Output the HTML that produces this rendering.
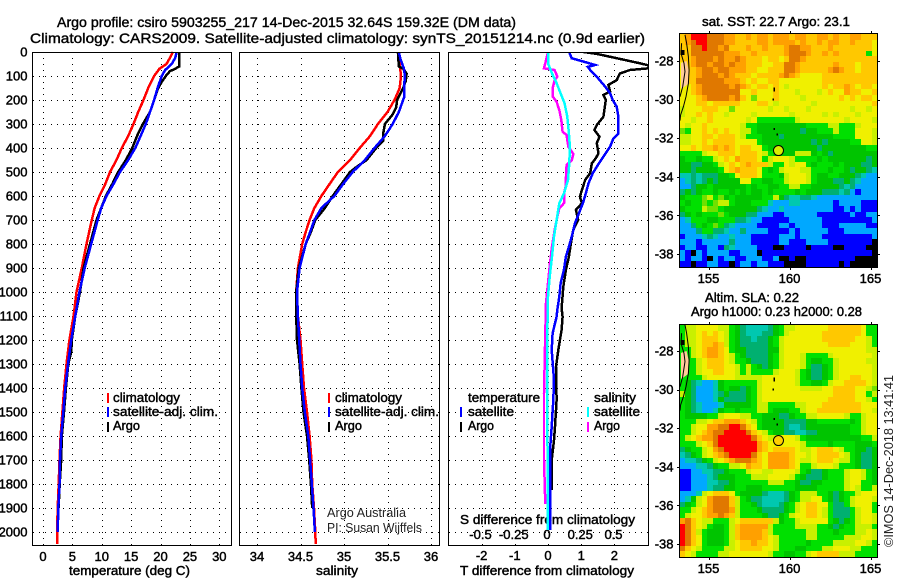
<!DOCTYPE html>
<html>
<head>
<meta charset="utf-8">
<title>Argo profile</title>
<style>
html,body{margin:0;padding:0;background:#fff;}
svg{display:block;}
text{font-family:"Liberation Sans",sans-serif;fill:#000;}
.t{font-size:14px;stroke:#000;stroke-width:.4px;}
.b{font-size:13px;stroke:#000;stroke-width:.45px;}
.n{font-size:13px;fill:#222;}
</style>
</head>
<body>
<svg id="fig" xmlns="http://www.w3.org/2000/svg" width="900" height="580" viewBox="0 0 900 580">
<defs>
<clipPath id="clip3"><rect x="448" y="52" width="200.5" height="494"/></clipPath>
<clipPath id="clipMap1"><rect x="680" y="34" width="197.5" height="233"/></clipPath>
<clipPath id="clipMap2"><rect x="680" y="325" width="197.5" height="232"/></clipPath>
</defs>
<text class="t" x="57" y="27" textLength="459" lengthAdjust="spacingAndGlyphs">Argo profile: csiro 5903255_217 14-Dec-2015 32.64S 159.32E (DM data)</text>
<text class="t" x="30" y="43" textLength="615" lengthAdjust="spacingAndGlyphs">Climatology: CARS2009. Satellite-adjusted climatology: synTS_20151214.nc (0.9d earlier)</text>
<text class="b" x="69" y="575" textLength="121" lengthAdjust="spacingAndGlyphs">temperature (deg C)</text>
<text class="b" x="316" y="575" textLength="42" lengthAdjust="spacingAndGlyphs">salinity</text>
<text class="b" x="460" y="575" textLength="174" lengthAdjust="spacingAndGlyphs">T difference from climatology</text>
<text class="b" x="460" y="524" textLength="175" lengthAdjust="spacingAndGlyphs">S difference from climatology</text>
<text class="n" x="327" y="517" textLength="79" lengthAdjust="spacingAndGlyphs">Argo Australia</text>
<text class="n" x="327" y="532" textLength="95" lengthAdjust="spacingAndGlyphs">PI: Susan Wijffels</text>
<text class="b" x="702" y="26" textLength="148" lengthAdjust="spacingAndGlyphs">sat. SST: 22.7 Argo: 23.1</text>
<text class="b" x="705" y="302" textLength="94" lengthAdjust="spacingAndGlyphs">Altim. SLA: 0.22</text>
<text class="b" x="691" y="316" textLength="171" lengthAdjust="spacingAndGlyphs">Argo h1000: 0.23 h2000: 0.28</text>
<text class="n" transform="translate(893 547) rotate(-90)" textLength="172" lengthAdjust="spacingAndGlyphs">©IMOS 14-Dec-2018 13:41:41</text>
<g id="layer"></g>
<text class="b" x="113" y="402" textLength="67" lengthAdjust="spacingAndGlyphs">climatology</text>
<text class="b" x="113" y="416" textLength="105" lengthAdjust="spacingAndGlyphs">satellite-adj. clim.</text>
<text class="b" x="113" y="430" textLength="27" lengthAdjust="spacingAndGlyphs">Argo</text>
<text class="b" x="335" y="402" textLength="67" lengthAdjust="spacingAndGlyphs">climatology</text>
<text class="b" x="335" y="416" textLength="104" lengthAdjust="spacingAndGlyphs">satellite-adj. clim.</text>
<text class="b" x="335" y="430" textLength="27" lengthAdjust="spacingAndGlyphs">Argo</text>
<text class="b" x="468" y="402" textLength="72" lengthAdjust="spacingAndGlyphs">temperature</text>
<text class="b" x="468" y="416" textLength="46" lengthAdjust="spacingAndGlyphs">satellite</text>
<text class="b" x="468" y="430" textLength="26" lengthAdjust="spacingAndGlyphs">Argo</text>
<text class="b" x="594" y="402" textLength="42" lengthAdjust="spacingAndGlyphs">salinity</text>
<text class="b" x="594" y="416" textLength="46" lengthAdjust="spacingAndGlyphs">satellite</text>
<text class="b" x="594" y="430" textLength="26" lengthAdjust="spacingAndGlyphs">Argo</text>
</svg>
<script>
var depthTicks=[0,100,200,300,400,500,600,700,800,900,1000,1100,1200,1300,1400,1500,1600,1700,1800,1900,2000];
var tempTicks=[0,5,10,15,20,25,30];
var tempTickLabels=["0","5","10","15","20","25","30"];
var salTicks=[34,34.5,35,35.5,36];
var salTickLabels=["34","34.5","35","35.5","36"];
var tDiffTicks=[-2,-1,0,1,2];
var tDiffTickLabels=["-2","-1","0","1","2"];
var sDiffTicks=[-0.5,-0.25,0,0.25,0.5];
var sDiffTickLabels=["-0.5","-0.25","0","0.25","0.5"];
var lonTicks=[155,160,165];
var latTicks=[-28,-30,-32,-34,-36,-38];
var latTickLabels=["-28","-30","-32","-34","-36","-38"];

var tempClimDepth=[0,25,50,70,100,150,200,250,300,350,400,450,500,550,600,650,700,800,900,1000,1100,1200,1300,1400,1500,1600,1700,1800,1900,2000,2050];
var tempClim=[22.1,21.6,21,19.8,18.9,17.9,17.1,16.2,15.4,14.5,13.4,12.5,11.4,10.6,9.6,8.8,8.3,7.4,6.6,5.7,5.2,4.5,4.0,3.6,3.3,3.0,2.8,2.67,2.5,2.4,2.4];
var tempSatDepth=[0,25,50,75,100,150,200,250,300,350,400,450,500,550,600,650,700,800,900,1000,1100,1200,1300,1400,1500,1600,1700,1800,1900,2000];
var tempSat=[22.75,22.5,21.9,20.8,20.2,19.5,18.9,18.2,17.5,16.6,15.7,14.5,13.1,12,10.8,9.9,9.3,8.2,7.1,6.2,5.5,4.8,4.25,3.8,3.46,3.1,2.9,2.8,2.6,2.5];
var tempArgoDepth=[0,60,70,80,100,125,150,200,250,300,350,400,450,500,550,600,650,700,800,900,1000,1100,1200,1250,1300,1400,1500,1600,1700,1800,1900];
var tempArgo=[23.2,23.2,22.5,21.6,20.9,20.2,19.6,18.9,18.2,17,16,15.2,14.1,12.8,11.8,10.7,9.9,9.1,8,6.9,6.3,5.5,4.9,4.8,4.3,3.9,3.57,3.2,3.1,2.85,2.65];

var salClimDepth=[0,50,100,150,200,250,300,350,400,450,500,550,600,650,700,750,800,900,1000,1100,1200,1300,1400,1500,1600,1700,1800,1900,2000,2050];
var salClim=[35.63,35.64,35.655,35.64,35.58,35.5,35.39,35.3,35.18,35.07,34.93,34.835,34.74,34.66,34.605,34.56,34.52,34.47,34.45,34.47,34.5,34.52,34.54,34.575,34.605,34.625,34.635,34.655,34.67,34.675];
var salSatDepth=[0,30,70,100,150,190,220,250,300,350,400,450,500,550,600,650,700,750,800,900,1000,1100,1200,1300,1400,1500,1600,1700,1800,1900,2000];
var salSat=[35.63,35.65,35.69,35.7,35.69,35.69,35.66,35.63,35.56,35.47,35.35,35.24,35.1,34.99,34.89,34.74,34.66,34.61,34.56,34.49,34.46,34.47,34.485,34.5,34.52,34.55,34.59,34.61,34.63,34.65,34.665];
var salArgoDepth=[0,60,70,90,120,150,200,230,260,300,340,370,400,450,480,500,550,600,650,700,750,800,900,1000,1100,1200,1300,1400,1500,1600,1700,1800,1900];
var salArgo=[35.62,35.63,35.68,35.72,35.71,35.68,35.61,35.6,35.56,35.47,35.45,35.45,35.37,35.26,35.14,35.07,34.97,34.87,34.78,34.67,34.62,34.56,34.48,34.45,34.45,34.46,34.49,34.51,34.535,34.575,34.6,34.62,34.635];

var dTsatDepth=[0,26,40,54,62,75,103,144,172,200,228,270,340,360,394,436,478,505,547,589,630,672,714,755,797,853,908,964,1019,1075,1103,1172,1242,1367,1450,1561,1658,1992];
var dTsat=[0.64,0.71,1.07,1.42,1.2,1.27,1.47,1.72,1.87,1.95,2.07,2.12,2.12,1.97,1.87,1.67,1.47,1.35,1.22,1.14,1.05,0.93,0.81,0.74,0.66,0.54,0.48,0.38,0.34,0.28,0.26,0.14,0.11,0.18,0.16,0.11,0.06,0.06];
var dTargoDepth=[0,8,26,47,56,68,75,89,117,137,165,179,200,270,304,325,353,380,422,443,464,505,533,575,603,630,658,700,742,797,853,908,978,1068,1103,1158,1242,1311,1450,1561,1617,1700,1825];
var dTargo=[1.07,1.47,2.07,2.77,3.03,3.03,2.47,2.17,2.07,1.82,1.87,1.67,1.74,1.67,1.47,1.4,1.55,1.47,1.52,1.44,1.32,1.27,1.12,1.02,0.96,1.02,0.84,0.91,0.76,0.69,0.63,0.54,0.46,0.41,0.44,0.41,0.31,0.24,0.26,0.21,0.18,0.11,0.11];
var dSargoDepth=[0,47,68,75,103,117,151,186,207,242,283,332,346,394,425,450,471,519,561,589,630,651,700,742,811,880,964,1047,1172,1422,1700,1883];
var dSargo=[0,-0.02,-0.03,0.05,0.07,0.05,0.035,0.035,0.065,0.085,0.1,0.11,0.14,0.153,0.19,0.18,0.14,0.135,0.133,0.12,0.12,0.085,0.065,0.05,0.03,0.015,0,-0.015,-0.02,-0.03,-0.03,-0.02];
var dSsatDepth=[0,47,89,130,172,214,270,325,394,464,533,589,630,700,769,853,936,1019,1172,1450,1728,1992];
var dSsat=[0,0,0.03,0.065,0.095,0.125,0.145,0.155,0.165,0.16,0.15,0.12,0.085,0.065,0.045,0.03,0.013,0,-0.005,-0.005,-0.003,0];

var coastLon=[153.55,153.65,153.76,153.80,153.76,153.61,153.45,153.28,153.24];
var coastLat=[-26.65,-27.08,-27.78,-28.47,-29.16,-29.85,-30.37,-30.8,-31.09];
var coast2Lon=[153.34,153.3,153.49,153.55,153.41,153.24];
var coast2Lat=[-27.08,-27.6,-28.12,-28.55,-29.33,-29.85];
var landLon=[153.3,153.65,153.78,153.72,153.4,153.3];
var landLat=[-28.1,-28.0,-28.5,-29.2,-29.4,-29.45];
var islandLon=[159.06,159.02,159.06,159.26,153.34];
var islandLat=[-29.47,-30.0,-31.53,-31.8,-27.57];
var islandSize=[4,2,2,2,5];
var argoLon=159.32;
var argoLat=-32.64;

var sstRows=[
"aoRRRO OOooaa oaooao ooaooa aooaoa aooaaa",
"aoORRO OOooaa aaooao oooaoa aoaooa aoaaay",
"aaOORO OoOaaa oaaoaa aoOOoo aaaoaa aaaaay",
"aaOOOO OOoooa aoaaaa aoOOOo aaoaoa aaaaGy",
"aaoOOO oOooOo aaayaa yaOOoa aaaaaa aaaaaa",
"yaoOOo OOoOoo aaayya aOOoaa aaaaoa aayaaa",
"yaaoOO oOOooo aayyaa aOOoaa aaaoOo aayaaa",
"yaaoOO OoOoaa ayaaaa oOoayy yyaaaa aaaaaa",
"yaaOOO OOoooa yayyaa yyyyyy yyaaaa aaaaaa",
"yyaoOO OOOoOo ayaaya ylyyyy yyayaa oayaay",
"yyaoOO OOOOOy yayyya yyylyy ylyayy oaayya",
"yyyaoO OOOoOa ygyyya yyyyly yyyyya yayaay",
"yyyaay aaaaay yyaayl yyyyyy lyyyyy yyyyya",
"lyyyaa ayygyy yyyyly ylyyyl yyyyyy ylyyly",
"lyyaya yylyyy ylyyyy yylyyy yylyly yylyyy",
"yylyya yyyyyy lyGGGG GGGlyy yyyyyy lyyyyl",
"ylyyay yyyyyl GGdddd dddddG GGGllG GGlyyy",
"gGyyay ayayyl lGdddd ddddtd dGGGlG GGyyyl",
"llyyaa yaaayl GGGddd tddddd ddddGG GGyyyl",
"llyyay aaaayy yyGddd dddddd tdtddd dGGyyl",
"yyayaa oaoaya ayyGdd dddddd dtdddd ddddGG",
"GGGGly yaaaya aaylGd dddlll dGdtdd dddddd",
"dGGdGG lyayoa aayGly yylGGG GdGddd ddddtd",
"ddttdd Glyaya oaaalG GylyyG dGGGdG dddttd",
"ddtddd dGyaoa aayGdG lyyyll GGGdGG dtddtc",
"cctctt tddGya aayGGG dlyyyl GddGGd ddtcbb",
"bctctd tddddy yGGddG Glyyyl Gdddtt dtcbbb",
"bbtddG dddddd GdGGdd GGllGG dddddt ctbbbb",
"tdtdGG dGGdGd GddGdG GGGdGd ddtttc tbBbbb",
"dGGGgl GgdGdd dddGGl dtcctt cbbbbb bbbbbb",
"GdGGgG gllGdd dGGGcb bbccbb bbbbBb bbbBBB",
"dGGGlg gGdddd ddtcbb cbbbbb bbbbBB bBbBBB",
"tdGdGG GgGddd ttbbbB Bbbbbb bBBBBB BbBBbb",
"bcGGGd dGGGtt cbbBBB BBbbbb bbBBBB BBBBBb",
"bbtGdG gGtcbb bbBBBB bbBbbb bbBBBb bbbbBB",
"bbbtGG ttcbbt bbbbBB BBbBbb bbbBBB bbbbbb",
"Bbbbct cbbcbb bBBBBB bbbBbb bbBBBB BBBBBb",
"bbbBbb bbbtbb bBBBBB bbBBBb bbbBBB BBBBBK",
"BbbBBb bBtcbb bbBBBK KBBBBK BBBBKK BBBBKK",
"bBKbBb bbbBBb bbKBBB BBBBBB BBBBBB BBBBBK",
"bBbbBK bBbbBB bbbBBb KKBKKB BBBBBB BBKKKK",
"BBKBBb bBBKBb bBbbBB BKKKKB BBBBBK BKKKKK"
];

var slaRows=[
"Gllyyy yllGdt cccctd Gllyyy yyyaaa aaayGG",
"Gllyay aylGdt cccttd Glyyyy yyaaaa aaayGG",
"Gllyaa aylGdt tcttdG lyyyyy yyaaaa aayylG",
"Gllyaa oalGdt ttttdG lyyyyy yyyaaa ayyylG",
"GGlyao oayGdd ttttdd lyyyyy yyyyyy yyyyll",
"GGlyao oaylGd ttttdG lyyylG GGGlyy yyyyyl",
"GGGlya aaylGG dtttdG lyyylG ddGGly yyyyll",
"GGGlya aayylG lGdtdG lyyylG ttdGly yyyyyl",
"GGGlyy aayylG lGGGGl yyylGd ttdGly yyyyyl",
"GGGGly yyyyll lllyyy yyylGd ttdGly yaayyl",
"Gdtcbb cdGGGG GGlyyy yyylGG ddGlyy aaaayl",
"Gdtbbb cdGddt dGlyyy yyyyll llyyaa aayylg",
"ldtbbb ctdttt dGlyyy yyyyyy yyyyaa aayyGl",
"Gdtbbb cdtttt dGlyyy yyyyyy yyyaaa aayylG",
"Gdtcbb bcdddd dGllGG GGGlly yyaaaa aaayyy",
"Gdtcbb cdGGdG GGllGd ddGGly yaaaaa aaayyl",
"GddddG Glyyyl lGGddd ttdGGl lyyyyy lGGlyy",
"GGGlly aaoooa ylGddd dttttd dGGGGG GdGlyy",
"GGlyyo oOORRO ayGddd dtcctd dddddd dGGlyy",
"GGlyao OORRRR OaylGd dttcct tddddd dGGlyy",
"Glyaoo ORRRRR ROayll yyylGd dddddd dddGGl",
"GGGlya ORRRRR RRoayy yyyylG GGGdGG GGdddG",
"tdGGly oORRRR RRoaya aaayll yaaayl GGddtd",
"ctdGly aoORRR ROayoo ooayyl yaaaay lGdttd",
"bcctdG lyaoOO Ooayoo ooayll yaaayl lGdttd",
"bbbcct dGGlly oaayoo ooayGG lyyylG GGdttd",
"BBbbcc ttdGGG lyylly yyylGd ttdGGG lyylGd",
"BBbbbc tdddGG Glllyy yylGdt ttdGGG lyylGd",
"BBbbbc cttdGG GGGGll lGGdtt ddGGGG lyyGGd",
"BBbbbc ttddGG dddGGG GGGddd dGGGGG lylGGl",
"bbbcly aaayGd dddtcc ctdGll lGGdtd GGlyyy",
"bcdlyo OOOalG dttccc ctdGll yyGdtd Glyyyl",
"tdGlyo OOOalG Gdtccc tdGlya ayyGtt GlyyyG",
"GGlyao OOOolG GGdttt tdGlya aylGtt tGlyyG",
"Glyyao oOoalG GGGdtt dGlyya aylGtt tGlyyl",
"oOayll GGGlya aaaaal dGGlyy yyyGdt dGlyyl",
"ROaylG ddGlao oooolG GGGlll lGGdtd GGlllG",
"ROalGd ddGlao oooalG GGGGGl lGGGdG GGllyl",
"ROayGd ddGlao oooayl GGGGGl lGGGGG lllyyl",
"ROayGd ddGlya aoaayl GGGGGd GGGGll llyylG",
"OaylGG GGllya aaayyl GGGddG GGllyy yllGGG",
"aylGGG Gllyyy yyyylG GddGGl yaaaal llGGGG"
];

var cellColors={R:"#ff0000",O:"#e07800",o:"#ffa000",a:"#ffc800",y:"#f0f000",l:"#c8f000",g:"#70e000",G:"#00e000",d:"#00c400",t:"#00b070",c:"#00c8b0",b:"#00a8ff",B:"#0000ff",K:"#000000",s:"#ffcc99"};

var NS="http://www.w3.org/2000/svg";
var layer=document.getElementById("layer");
function make(tag,attrs,parent){
  var e=document.createElementNS(NS,tag);
  for(var k in attrs){e.setAttribute(k,attrs[k]);}
  (parent||layer).appendChild(e);
  return e;
}
function yDepth(d){return 52+d*0.24;}
function xTemp(v){return 43+v*5.877;}
function xSal(v){return 257+(v-34)*87;}
function xDT(v){return 548+v*33.2;}
function xDS(v){return 548+v*133;}

function panelBase(name,x0,x1,ticks,xf,labels,labelY,showDepth){
  var i,g,t;
  for(i=0;i<depthTicks.length;i++){
    g=make("line",{x1:x0,x2:x1,y1:Math.round(yDepth(depthTicks[i]))+0.5,y2:Math.round(yDepth(depthTicks[i]))+0.5,stroke:"#000","stroke-dasharray":"1 5","shape-rendering":"crispEdges"});
    
    
  }
  for(i=0;i<ticks.length;i++){
    g=make("line",{x1:Math.round(xf(ticks[i]))+0.5,x2:Math.round(xf(ticks[i]))+0.5,y1:52,y2:546,stroke:"#000","stroke-dasharray":"1 5","shape-rendering":"crispEdges"});
    
    
    t=make("text",{x:xf(ticks[i]),y:labelY,"text-anchor":"middle","class":"b"});
    t.textContent=labels[i];
    
    
  }
  if(showDepth){
    for(i=0;i<depthTicks.length;i++){
      t=make("text",{x:27.5,y:yDepth(depthTicks[i])+4.5,"text-anchor":"end","class":"b"});
      t.textContent=String(depthTicks[i]);
      
      
    }
  }
}
function frame(name,x0,y0,x1,y1){
  var r=make("rect",{x:x0,y:y0,width:x1-x0,height:y1-y0,fill:"none",stroke:"#000","stroke-width":1,"shape-rendering":"crispEdges"});
  
  
}
function profile(name,depths,vals,xf,color,width,clip){
  var pts=[],i;
  for(i=0;i<vals.length;i++){pts.push(xf(vals[i]).toFixed(1)+","+yDepth(depths[i]).toFixed(1));}
  var p=make("polyline",{points:pts.join(" "),fill:"none",stroke:color,"stroke-width":width,"shape-rendering":"crispEdges"});
  if(clip){p.setAttribute("clip-path","url(#"+clip+")");}
  
  
}
function legendBar(name,x,y,color){
  var r=make("rect",{x:x,y:y,width:2,height:10,fill:color,"shape-rendering":"crispEdges"});
  
  
}

panelBase("temperature",33,231,tempTicks,xTemp,tempTickLabels,561,true);
panelBase("salinity",240,439,salTicks,xSal,salTickLabels,561,false);
panelBase("difference",449,648,tDiffTicks,xDT,tDiffTickLabels,560,false);
for(var si=0;si<sDiffTicks.length;si++){
  var sl=make("text",{x:xDS(sDiffTicks[si])-1,y:539,"text-anchor":"middle","class":"b"});
  sl.textContent=sDiffTickLabels[si];
  
  
}

profile("temperature-climatology-line",tempClimDepth,tempClim,xTemp,"#ff0000",2.5);
profile("temperature-argo-line",tempArgoDepth,tempArgo,xTemp,"#000000",2.5);
profile("temperature-satellite-line",tempSatDepth,tempSat,xTemp,"#0000ff",2.5);
profile("salinity-climatology-line",salClimDepth,salClim,xSal,"#ff0000",2.5);
profile("salinity-argo-line",salArgoDepth,salArgo,xSal,"#000000",2.5);
profile("salinity-satellite-line",salSatDepth,salSat,xSal,"#0000ff",2.5);
profile("t-diff-argo-line",dTargoDepth,dTargo,xDT,"#000000",2.5,"clip3");
profile("t-diff-satellite-line",dTsatDepth,dTsat,xDT,"#0000ff",2.5,"clip3");
profile("s-diff-argo-line",dSargoDepth,dSargo,xDS,"#ff00ff",2.5,"clip3");
profile("s-diff-satellite-line",dSsatDepth,dSsat,xDS,"#00ffff",2.5,"clip3");

frame("temperature-panel-frame",32.5,52.5,231.5,545.5);
frame("salinity-panel-frame",239.5,52.5,439.5,545.5);
frame("difference-panel-frame",448.5,52.5,648.5,545.5);

legendBar("legend-swatch-climatology",107,393,"#ff0000");
legendBar("legend-swatch-satellite-adj",107,407,"#0000ff");
legendBar("legend-swatch-argo",107,422,"#000000");
legendBar("legend-swatch-climatology-salinity",328,393,"#ff0000");
legendBar("legend-swatch-satellite-adj-salinity",328,407,"#0000ff");
legendBar("legend-swatch-argo-salinity",328,422,"#000000");
legendBar("legend-swatch-t-satellite",460,407,"#0000ff");
legendBar("legend-swatch-t-argo",460,422,"#000000");
legendBar("legend-swatch-s-satellite",587,407,"#00ffff");
legendBar("legend-swatch-s-argo",587,422,"#ff00ff");

function drawMap(rows,prefix,top,bottom,lat28,clip,dotColor){
  var left=680,right=877,i,j,r,cols=36,nrows=rows.length;
  function xLon(v){return 708.5+(v-155)*16.2;}
  function yLat(v){return lat28+(-28-v)*19.3;}
  for(j=0;j<nrows;j++){
    var row=rows[j].replace(/ /g,"");
    var y0=Math.round(top+j*(bottom-top)/nrows),y1=Math.round(top+(j+1)*(bottom-top)/nrows);
    for(i=0;i<cols;i++){
      var ch=row.charAt(i);
      if(!ch){continue;}
      var x0=Math.round(left+i*(right-left)/cols),x1=Math.round(left+(i+1)*(right-left)/cols);
      r=make("rect",{x:x0,y:y0,width:x1-x0,height:y1-y0,fill:cellColors[ch],"shape-rendering":"crispEdges"});
      
      
    }
  }
  var landPts=[],k;
  for(k=0;k<landLon.length;k++){landPts.push(xLon(landLon[k]).toFixed(1)+","+yLat(landLat[k]).toFixed(1));}
  var land=make("polygon",{points:landPts.join(" "),fill:cellColors.s,"clip-path":"url(#"+clip+")"});
  
  
  function coastLine(lons,lats,name){
    var pts=[],k;
    for(k=0;k<lons.length;k++){pts.push(xLon(lons[k]).toFixed(1)+","+yLat(lats[k]).toFixed(1));}
    var c=make("polyline",{points:pts.join(" "),fill:"none",stroke:"#000","stroke-width":1,"clip-path":"url(#"+clip+")"});
    
    
  }
  coastLine(coastLon,coastLat,prefix+'-coastline');
  coastLine(coast2Lon,coast2Lat,prefix+'-inner-coastline');
  for(i=0;i<islandLon.length;i++){
    var s=islandSize[i];
    r=make("rect",{x:xLon(islandLon[i])-1,y:yLat(islandLat[i])-s/2,width:i==4?4:1.5,height:s,fill:"#000","shape-rendering":"crispEdges"});
    
    
  }
  var c=make("circle",{cx:xLon(argoLon),cy:yLat(argoLat),r:5,fill:dotColor,stroke:"#000","stroke-width":1});
  
  
  frame(prefix+'-map-frame',left-0.5,top-0.5,right+0.5,bottom+0.5);
  for(i=0;i<lonTicks.length;i++){
    var lx=Math.round(xLon(lonTicks[i]))+0.5;
    r=make("line",{x1:lx,x2:lx,y1:top-3,y2:top,stroke:"#000","shape-rendering":"crispEdges"});
    
    
    r=make("line",{x1:lx,x2:lx,y1:bottom,y2:bottom+3,stroke:"#000","shape-rendering":"crispEdges"});
    
    
    var tl=make("text",{x:xLon(lonTicks[i]),y:bottom+16,"text-anchor":"middle","class":"b"});
    tl.textContent=String(lonTicks[i]);
    
    
  }
  for(i=0;i<latTicks.length;i++){
    var ly=Math.round(yLat(latTicks[i]))+0.5;
    if(latTicks[i]==-38&&ly>bottom){continue;}
    r=make("line",{x1:left-3,x2:left,y1:ly,y2:ly,stroke:"#000","shape-rendering":"crispEdges"});
    
    
    r=make("line",{x1:right,x2:right+3,y1:ly,y2:ly,stroke:"#000","shape-rendering":"crispEdges"});
    
    
    var tt=make("text",{x:673.5,y:yLat(latTicks[i])+4.5,"text-anchor":"end","class":"b"});
    tt.textContent=latTickLabels[i];
    
    
  }
}
drawMap(sstRows,"sst",34,267,61,"clipMap1","#d8f000");
drawMap(slaRows,"sla",325,557,351,"clipMap2","#ffd000");
</script>
</body>
</html>
